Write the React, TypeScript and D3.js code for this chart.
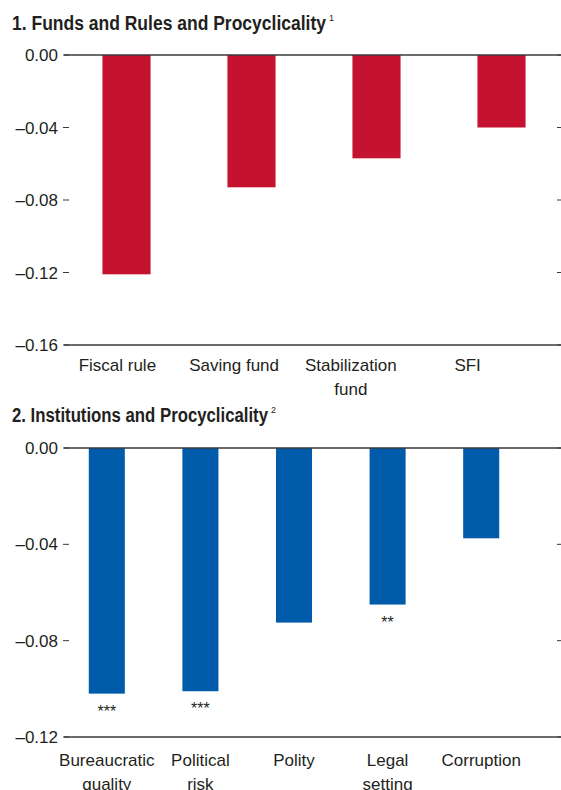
import React from "react";
import * as d3 from "d3";

// ---- Data ----
const panel1Categories: string[][] = [["Fiscal rule"], ["Saving fund"], ["Stabilization", "fund"], ["SFI"]];
const panel1Values: number[] = [-0.121, -0.073, -0.057, -0.04];
const panel1Ticks: number[] = [0, -0.04, -0.08, -0.12, -0.16];

const panel2Categories: string[][] = [["Bureaucratic", "quality"], ["Political", "risk"], ["Polity"], ["Legal", "setting"], ["Corruption"]];
const panel2Values: number[] = [-0.102, -0.101, -0.0725, -0.065, -0.0375];
const panel2Stars: string[] = ["***", "***", "", "**", ""];
const panel2Ticks: number[] = [0, -0.04, -0.08, -0.12];

const W = 561;
const H = 790;
const TEXT = "#231f20";
const AXIS = "#3a3a3a";
const FONT = "'Liberation Sans', Arial, sans-serif";

const fmt = (v: number) => (v === 0 ? "0.00" : "\u2013" + d3.format(".2f")(Math.abs(v)));

type PanelProps = {
  title: string;
  sup: string;
  titleLen: number;
  titleY: number;
  yTop: number;
  yBottom: number;
  ticks: number[];
  categories: string[][];
  values: number[];
  stars?: string[];
  color: string;
  barRange: [number, number];
  labelRange: [number, number];
  labelY: number;
};

function Panel(p: PanelProps) {
  const keys = p.categories.map((c) => c.join(" "));
  const minV = d3.min(p.ticks) as number;
  const y = d3.scaleLinear().domain([minV, 0]).range([p.yBottom, p.yTop]);
  const xb = d3.scaleBand<string>().domain(keys).range(p.barRange).paddingInner(0.615).paddingOuter(0.3075);
  const xl = d3.scaleBand<string>().domain(keys).range(p.labelRange).padding(0);
  const axisL = 64;
  const axisR = W;
  return (
    <g>
      <text x={12} y={p.titleY} fontFamily={FONT} fontWeight="bold" fontSize={20} fill={TEXT}
        textLength={p.titleLen} lengthAdjust="spacingAndGlyphs">{p.title}</text>
      <text x={12 + p.titleLen + 3} y={p.titleY - 9} fontFamily={FONT} fontSize={9} fill={TEXT}>{p.sup}</text>
      {p.values.map((v, i) => (
        <rect key={keys[i]} x={xb(keys[i])} y={y(0)} width={xb.bandwidth()} height={y(v) - y(0)} fill={p.color} />
      ))}
      <line x1={axisL} x2={axisR} y1={y(0)} y2={y(0)} stroke={AXIS} strokeWidth={1.3} />
      <line x1={axisL} x2={axisR} y1={y(minV)} y2={y(minV)} stroke={AXIS} strokeWidth={1.3} />
      {p.ticks.map((t) => (
        <g key={t}>
          <line x1={63} x2={69} y1={y(t)} y2={y(t)} stroke={AXIS} strokeWidth={1} />
          <line x1={557} x2={561} y1={y(t)} y2={y(t)} stroke={AXIS} strokeWidth={1} />
          <text x={58} y={y(t)} dy="0.36em" textAnchor="end" fontFamily={FONT} fontSize={17} fill={TEXT}>{fmt(t)}</text>
        </g>
      ))}
      {p.stars && p.values.map((v, i) => p.stars![i] ? (
        <text key={"s" + i} x={(xb(keys[i]) as number) + xb.bandwidth() / 2} y={y(v) + 23} textAnchor="middle"
          fontFamily={FONT} fontSize={16} fill={TEXT}>{p.stars![i]}</text>
      ) : null)}
      {p.categories.map((lines, i) => (
        <text key={"l" + i} x={(xl(keys[i]) as number) + xl.bandwidth() / 2} y={p.labelY} textAnchor="middle"
          fontFamily={FONT} fontSize={17} fill={TEXT}>
          {lines.map((ln, j) => (
            <tspan key={j} x={(xl(keys[i]) as number) + xl.bandwidth() / 2} dy={j === 0 ? 0 : 24.5}>{ln}</tspan>
          ))}
        </text>
      ))}
    </g>
  );
}

export default function App() {
  return (
    <svg width={W} height={H} style={{ position: "absolute", left: 0, top: 0, background: "#fff" }}>
      <rect width={W} height={H} fill="#fff" />
      <Panel
        title="1. Funds and Rules and Procyclicality"
        sup="1"
        titleLen={314}
        titleY={30}
        yTop={55}
        yBottom={345}
        ticks={panel1Ticks}
        categories={panel1Categories}
        values={panel1Values}
        color="#c41230"
        barRange={[64, 564]}
        labelRange={[59, 526]}
        labelY={370.5}
      />
      <Panel
        title="2. Institutions and Procyclicality"
        sup="2"
        titleLen={256}
        titleY={421.5}
        yTop={448}
        yBottom={737}
        ticks={panel2Ticks}
        categories={panel2Categories}
        values={panel2Values}
        stars={panel2Stars}
        color="#005baa"
        barRange={[60, 528]}
        labelRange={[60, 528]}
        labelY={765.5}
      />
    </svg>
  );
}
